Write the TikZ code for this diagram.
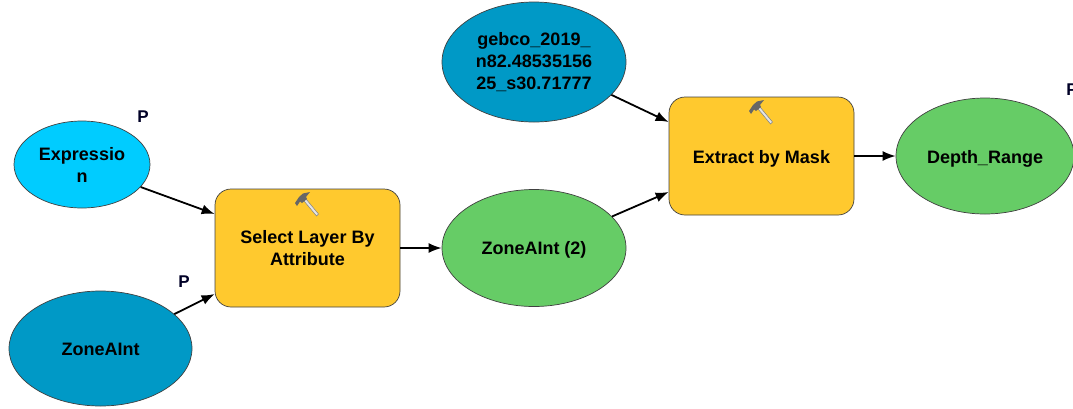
\documentclass[tikz,border=0pt]{standalone}
\usepackage{fontspec}
\setmainfont{Liberation Sans}
\usetikzlibrary{shapes.geometric,arrows.meta}
\definecolor{procyellow}{HTML}{FFC92E}
\definecolor{outgreen}{HTML}{66CC66}
\definecolor{paramcyan}{HTML}{00CCFF}
\definecolor{datablue}{HTML}{0099C6}
\definecolor{edgegray}{HTML}{404040}
\newcommand{\lowtext}[2]{\raisebox{-#1pt}[\height][\depth]{#2}}
\newcommand{\hammericon}[2]{%
  \begin{scope}[shift={(#1,#2)}]
    \fill[black!10] (2.6,-1.5) -- (15.5,14) -- (13.5,16) -- (0.6,0.5) -- cycle;
    \draw[black!50,line width=0.5pt] (2.6,-1.5) -- (15.5,14) -- (13.5,16) -- (0.6,0.5) -- cycle;
    \fill[black!60] (-8,3) -- (-4,-3) -- (0,-6.5) -- (7,-8) -- (3,-3) -- (4,-1) -- (-1,3) -- (-3,1.5) -- (-6,6) -- cycle;
  \end{scope}}
\tikzset{
  x=1pt,y=-1pt,
  every node/.style={font=\fontsize{18}{22}\selectfont\bfseries,text=black,align=center,inner sep=0pt},
  oval/.style={ellipse,draw=edgegray,line width=0.7pt,minimum width=#1},
  procbox/.style={rectangle,rounded corners=16pt,draw=edgegray,line width=0.7pt,fill=procyellow,minimum width=185pt,minimum height=118pt},
  flow/.style={-{Latex[length=13pt,width=10pt]},line width=1.8pt,black},
  pmark/.style={font=\fontsize{17}{20}\selectfont\bfseries,text=black!85!blue}
}
\begin{document}
\begin{tikzpicture}
\useasboundingbox (0,0) rectangle (1073,408);
\clip (0,0) rectangle (1073,408);
\node[oval=136pt,minimum height=87pt,fill=paramcyan] (expr) at (82,164.5) {Expressio\\n};
\node[oval=183pt,minimum height=115pt,fill=datablue] (zone) at (100.5,348.5) {\lowtext{1}{ZoneAInt}};
\node[oval=184pt,minimum height=120pt,fill=datablue] (gebco) at (534,62) {gebco\_2019\_\\n82.48535156\\25\_s30.71777};
\node[oval=184pt,minimum height=117pt,fill=outgreen] (zone2) at (534,248) {\lowtext{2}{ZoneAInt (2)}};
\node[oval=178pt,minimum height=116pt,fill=outgreen] (depth) at (985,156) {\lowtext{3}{Depth\_Range}};
\node[procbox] (select) at (307.5,248) {Select Layer By\\Attribute};
\node[procbox] (extract) at (761.5,156) {\lowtext{3}{Extract by Mask}};
\node[pmark] (p1) at (143,117) {P};
\node[pmark] (p2) at (184,282) {P};
\node[pmark] (p3) at (1072,90) {P};
\hammericon{303}{200}
\hammericon{757}{108}
\draw[flow] (expr.-21.8) -- ([yshift=34pt]select.west);
\draw[flow] (zone.25.8) -- ([yshift=-46pt]select.west);
\draw[flow] (select.east) -- (zone2.west);
\draw[flow] (zone2.22.3) -- ([yshift=-36pt]extract.west);
\draw[flow] (gebco.-23.6) -- ([yshift=34pt]extract.west);
\draw[flow] (extract.east) -- (depth.west);
\end{tikzpicture}
\end{document}
